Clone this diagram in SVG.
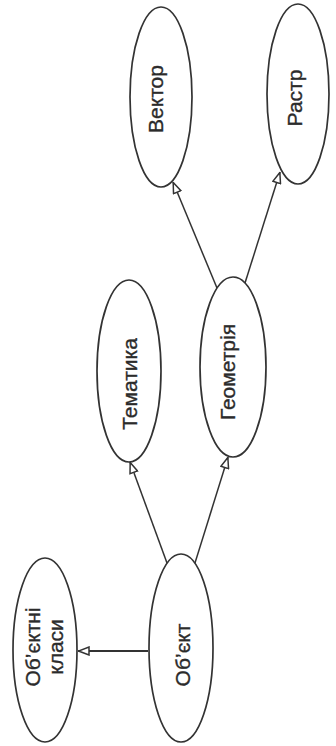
<svg xmlns="http://www.w3.org/2000/svg" width="336" height="746" viewBox="0 0 336 746">
<style>
.node ellipse{fill:#fff;stroke:#333;stroke-width:1.7}
.node text{font-family:"Liberation Sans",Arial,sans-serif;font-size:21px;fill:#2b2b2b;stroke:#2b2b2b;stroke-width:0.35;text-anchor:middle}
.conn line{stroke:#333;stroke-width:1.5;fill:none}
</style>
<defs>
<marker id="tri" viewBox="0 0 12 10" refX="12" refY="5" markerWidth="12" markerHeight="10" markerUnits="userSpaceOnUse" orient="auto">
<path d="M11.5,5 L1,1 L1,9 Z" fill="#fff" stroke="#333" stroke-width="1.5"/>
</marker>
</defs>
<rect width="336" height="746" fill="#fff"/>
<g class="conn" id="connectors">
<line x1="148" y1="651" x2="78" y2="651" marker-end="url(#tri)" style="stroke-width:2.2"/>
<line x1="167" y1="563" x2="130" y2="462" marker-end="url(#tri)"/>
<line x1="195" y1="563" x2="228" y2="457" marker-end="url(#tri)"/>
<line x1="217" y1="288" x2="173" y2="182" marker-end="url(#tri)"/>
<line x1="245" y1="283" x2="280" y2="172" marker-end="url(#tri)"/>
</g>
<g class="node" id="vector">
<ellipse cx="161" cy="97" rx="31" ry="90"/>
<text transform="translate(163,99) rotate(-90)">Вектор</text>
</g>
<g class="node" id="raster">
<ellipse cx="298" cy="94" rx="31" ry="90"/>
<text transform="translate(302,98) rotate(-90)">Растр</text>
</g>
<g class="node" id="tematyka">
<ellipse cx="129" cy="371" rx="32" ry="91"/>
<text transform="translate(137,384) rotate(-90)">Тематика</text>
</g>
<g class="node" id="geometry">
<ellipse cx="233" cy="367" rx="33" ry="90"/>
<text transform="translate(235,372) rotate(-90)">Геометрія</text>
</g>
<g class="node" id="object-classes">
<ellipse cx="45" cy="650" rx="32" ry="92"/>
<text transform="translate(40,647) rotate(-90)">Об’єктні</text>
<text transform="translate(63,647) rotate(-90)">класи</text>
</g>
<g class="node" id="object">
<ellipse cx="181" cy="648" rx="32" ry="94"/>
<text transform="translate(190,655) rotate(-90)">Об’єкт</text>
</g>
</svg>
